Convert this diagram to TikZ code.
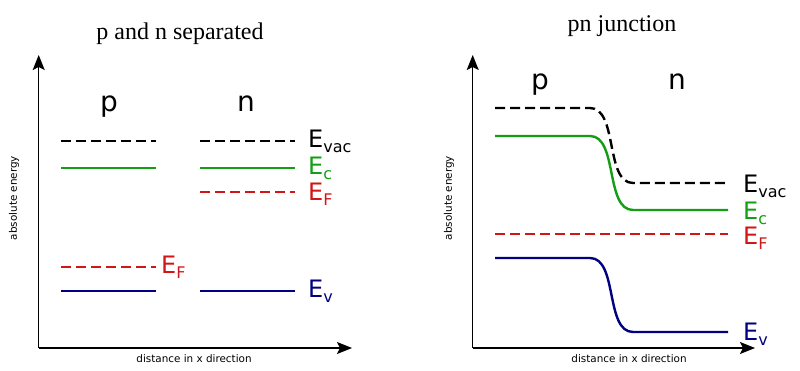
\documentclass[tikz,border=0pt]{standalone}
\usepackage{fontspec}
\setmainfont{Liberation Serif}
\newfontfamily\labfont{DejaVu Sans}
\usetikzlibrary{arrows.meta}
\definecolor{cgreen}{RGB}{20,158,20}
\definecolor{cred}{RGB}{208,22,22}
\definecolor{cblue}{RGB}{0,0,128}
\newcommand{\Elev}[1]{{\fontsize{24}{24}\selectfont E}\raisebox{-5pt}{\fontsize{16}{16}\selectfont #1}}
\begin{document}
\begin{tikzpicture}[x=1pt,y=-1pt,
  axis/.style={line width=1.3pt,-{Stealth[length=15pt,width=12pt,inset=3pt]}},
  band/.style={line width=2.4pt},
  dsh/.style={band,dash pattern=on 10pt off 5pt},
  lvl/.style={anchor=base west,inner sep=0pt,font=\labfont},
  region/.style={anchor=base,inner sep=0pt,font=\labfont\fontsize{28}{28}\selectfont},
  axlab/.style={inner sep=0pt,font=\labfont\fontsize{10.4}{11}\selectfont},
  ttl/.style={anchor=base,inner sep=0pt,font=\fontsize{24}{24}\selectfont}]
\useasboundingbox (0,0) rectangle (800,371);

% ---------- left panel ----------
\node[ttl] (t1) at (180,40) {p and n separated};
\coordinate (o1) at (38.7,348);
\coordinate (ya1) at (38.7,55);
\coordinate (xa1) at (352,348);
\draw[axis] (o1) -- (ya1);
\draw[axis] (o1) -- (xa1);
\node[axlab,rotate=90] (al1) at (14,198) {absolute energy};
\node[axlab,anchor=base] (dl1) at (194,362) {distance in x direction};
\node[region] (p1) at (109,112) {p};
\node[region] (n1) at (246,112) {n};

\draw[dsh] (61,141) -- (156,141);
\draw[dsh] (200,141) -- (295,141);
\draw[band,cgreen] (61,168) -- (156,168);
\draw[band,cgreen] (200,168) -- (295,168);
\draw[dsh,cred] (200,192) -- (295,192);
\draw[dsh,cred] (61,267) -- (156,267);
\draw[band,cblue] (61,291) -- (156,291);
\draw[band,cblue] (200,291) -- (295,291);

\node[lvl] (evac1) at (308,148) {\Elev{vac}};
\node[lvl,text=cgreen] (ec1) at (308,175) {\Elev{c}};
\node[lvl,text=cred] (efn1) at (308,201) {\Elev{F}};
\node[lvl,text=cred] (efp1) at (161,273) {\Elev{F}};
\node[lvl,text=cblue] (ev1) at (308,298) {\Elev{v}};

% ---------- right panel ----------
\node[ttl] (t2) at (622,32) {pn junction};
\coordinate (o2) at (472.7,348);
\coordinate (ya2) at (472.7,55);
\coordinate (xa2) at (755,348);
\draw[axis] (o2) -- (ya2);
\draw[axis] (o2) -- (xa2);
\node[axlab,rotate=90] (al2) at (449,198) {absolute energy};
\node[axlab,anchor=base] (dl2) at (629,362) {distance in x direction};
\node[region] (p2) at (540,90) {p};
\node[region] (n2) at (677,90) {n};

\draw[dsh] (495,108) -- (590,108) .. controls (618,108) and (605,183) .. (633,183) -- (728,183);
\draw[band,cgreen] (495,136) -- (590,136) .. controls (618,136) and (605,210) .. (633,210) -- (728,210);
\draw[dsh,cred] (495,234) -- (728,234);
\draw[band,cblue] (495,258) -- (590,258) .. controls (618,258) and (605,332) .. (633,332) -- (728,332);

\node[lvl] (evac2) at (743,193) {\Elev{vac}};
\node[lvl,text=cgreen] (ec2) at (743,220) {\Elev{c}};
\node[lvl,text=cred] (ef2) at (743,245) {\Elev{F}};
\node[lvl,text=cblue] (ev2) at (743,340) {\Elev{v}};
\end{tikzpicture}
\end{document}
